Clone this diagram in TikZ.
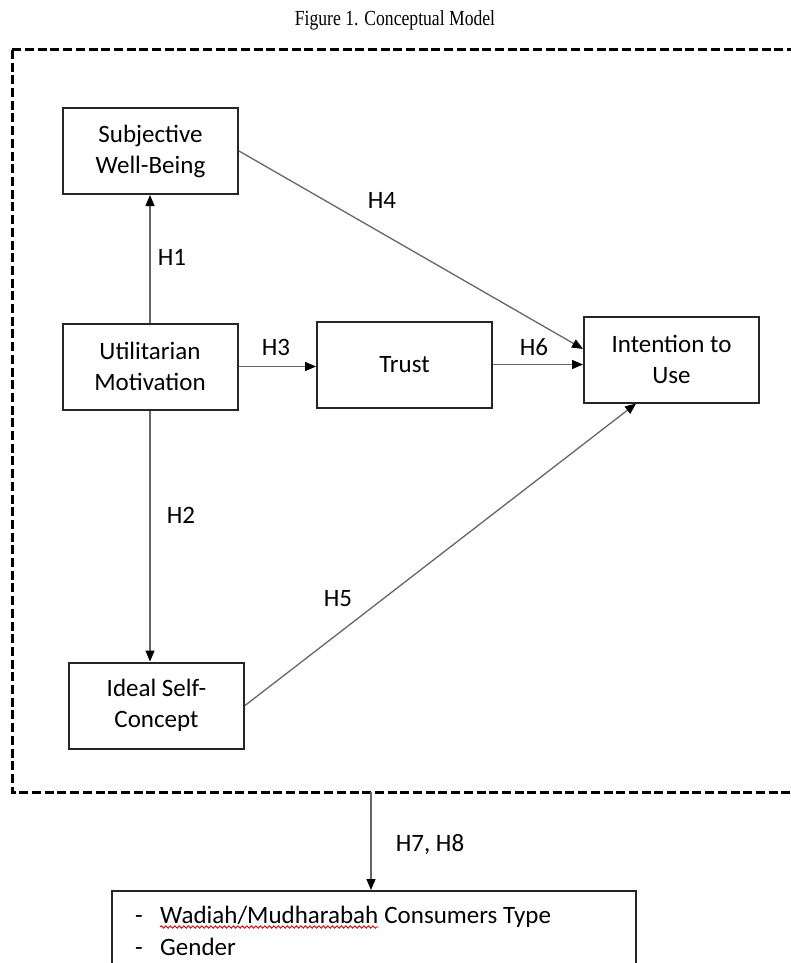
\documentclass[tikz,border=0pt]{standalone}
\usepackage{fontspec}
\setmainfont{Liberation Serif}
\newfontfamily\calfont{Carlito}
\usepackage{tikz}
\usetikzlibrary{positioning,arrows.meta,calc,decorations.pathmorphing}

\begin{document}
\begin{tikzpicture}[
    x=1pt, y=-1pt,
    construct/.style={rectangle, draw=black!85, line width=2pt, minimum width=175pt, minimum height=86pt, align=center, inner sep=0pt, font=\calfont\fontsize{25}{31}\selectfont},
    hyp/.style={font=\calfont\fontsize{25}{30}\selectfont, inner sep=0pt},
    item/.style={font=\calfont\fontsize{25}{30}\selectfont, inner sep=0pt},
    link/.style={draw=black!60, line width=1.3pt, -{Triangle[length=11pt,width=9pt,color=black]}},
    frame/.style={line width=3pt, dash pattern=on 9pt off 3.7pt},
    squiggle/.style={draw=red!85!black, line width=0.9pt, decorate, decoration={snake, amplitude=1.2pt, segment length=4.5pt}}
]
\useasboundingbox (0,0) rectangle (790,963);

% Title
\node[font=\fontsize{21.5}{26}\selectfont] (title) at (395,20) {\scalebox{0.82}[1]{Figure 1. Conceptual Model}};

% Dashed frame round the model
\draw[frame] (12,50) rectangle (805,792);
\coordinate (framebot) at (371,792);

% Constructs
\node[construct] (swb) at (150.5,151) {Subjective\\Well-Being};
\node[construct] (util) at (150,366.5) {Utilitarian\\Motivation};
\node[construct] (trust) at (404.5,364.5) {Trust};
\node[construct] (intent) at (671.5,359.5) {Intention to\\Use};
\node[construct] (ideal) at (156.5,705.5) {Ideal Self-\\Concept};

% Moderators box
\node[rectangle, draw=black!85, line width=2pt, anchor=north west, minimum width=524pt, minimum height=120pt] (mods) at (111,890) {};
\node[item, anchor=base] (dash1) at (139,923) {-};
\node[item, anchor=base west] (wm) at (160,923) {Wadiah/Mudharabah};
\node[item, base right=5.65pt of wm] (ctype) {Consumers Type};
\node[item, anchor=base] (dash2) at (139,955) {-};
\node[item, anchor=base west] (gender) at (160,955) {Gender};
\draw[squiggle] ([yshift=-4pt]wm.base west) -- ([yshift=-4pt]wm.base east);

% Hypotheses
\draw[link] (util.north) -- (util.north |- swb.south);
\draw[link] (util.south) -- (util.south |- ideal.north);
\draw[link] (util.east) -- (util.east -| trust.west);
\draw[link] (trust.east) -- (trust.east -| intent.west);
\draw[link] (swb.east) -- ($(intent.north west)!0.38!(intent.south west)$);
\draw[link] (ideal.east) -- ($(intent.south west)!0.3!(intent.south east)$);
\draw[link] (framebot) -- (framebot |- mods.north);

\node[hyp] (h1) at (172,257) {H1};
\node[hyp] (h2) at (181,515) {H2};
\node[hyp] (h3) at (276,347) {H3};
\node[hyp] (h4) at (382,200) {H4};
\node[hyp] (h5) at (338,599) {H5};
\node[hyp] (h6) at (534,347) {H6};
\node[hyp] (h78) at (430,845) {H7, H8};
\end{tikzpicture}
\end{document}
